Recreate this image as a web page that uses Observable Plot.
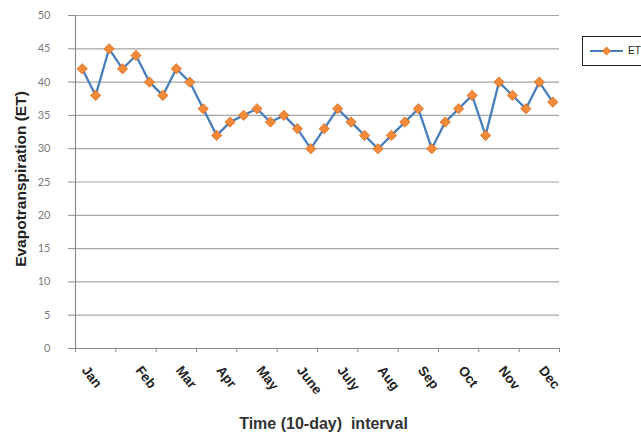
<!DOCTYPE html>
<html>
<head>
<meta charset="utf-8">
<script src="https://cdn.jsdelivr.net/npm/d3@7"></script>
<script src="https://cdn.jsdelivr.net/npm/@observablehq/plot@0.6"></script>
<style>
  html, body { margin: 0; padding: 0; background: #fff; overflow: hidden; width: 641px; height: 436px; }
  #chart { position: relative; width: 641px; height: 436px; }
  #legend { position: absolute; left: 582px; top: 36px; width: 80px; height: 28px; border: 1.5px solid #222; background: #fff; font-family: "Liberation Sans", Arial, sans-serif; font-size: 10px; color: #222; }
  #legend svg { position: absolute; left: 0; top: 0; }
  #legend span { position: absolute; left: 45px; top: 8px; }
</style>
</head>
<body>
<div id="chart"></div>
<script>
// 36 ten-day intervals
const intervals = d3.range(36);
const etValues = [42,38,45,42,44,40,38,42,40,36,32,34,35,36,34,35,33,30,33,36,34,32,30,32,34,36,30,34,36,38,32,40,38,36,40,37];
const categoryLabels = ["Jan","","","","Feb","","","Mar","","","Apr","","","May","","","June","","","July","","","Aug","","","Sep","","","Oct","","","Nov","","","Dec",""];
const yTicks = d3.range(0, 51, 5);
const xTickBoundaries = d3.range(0, 37, 3);
const seriesName = "ET";
const yTitle = "Evapotranspiration (ET)";
const xTitle = "Time (10-day)  interval";

const data = intervals.map(i => ({i, x: i + 0.5, et: etValues[i], label: categoryLabels[i]}));
const labelData = data.filter(d => d.label !== "");

const lineColor = "#4a7ebb";
const markerFill = "#f28a3a";
const markerStroke = "#d8661a";
const font = "Lato, 'Liberation Sans', sans-serif";
const boldFont = "'Liberation Sans', Arial, sans-serif";

const chart = Plot.plot({
  width: 641,
  height: 436,
  marginLeft: 75,
  marginRight: 82,
  marginTop: 15,
  marginBottom: 88,
  style: {fontFamily: font, background: "#fff", overflow: "visible"},
  x: {domain: [0, 36], axis: null},
  y: {domain: [0, 50], axis: null},
  marks: [
    Plot.ruleY(yTicks.filter(v => v > 0), {stroke: "#a6a6a6", strokeWidth: 1.2}),
    Plot.axisY({ticks: yTicks, tickSize: 7, tickPadding: 18, stroke: "#8c8c8c", tickFormat: d => d, fontSize: 11, fill: "#7a7a7a", label: null}),
    Plot.axisX({ticks: xTickBoundaries, tickSize: 4, tickFormat: () => "", stroke: "#8c8c8c", label: null}),
    Plot.ruleX([0], {stroke: "#8c8c8c", strokeWidth: 1.2}),
    Plot.ruleY([0], {stroke: "#8c8c8c", strokeWidth: 1.2}),
    Plot.line(data, {x: "x", y: "et", stroke: lineColor, strokeWidth: 2.3}),
    Plot.dot(data, {x: "x", y: "et", symbol: "diamond2", r: 4.6, fill: markerFill, stroke: markerStroke, strokeWidth: 0.8}),
    Plot.text(labelData, {x: "x", frameAnchor: "bottom", text: "label", rotate: 52, textAnchor: "start", dy: 22, dx: -1, fontSize: 13.5, fontWeight: "bold", fill: "#222", fontFamily: boldFont}),
    Plot.text([yTitle], {frameAnchor: "left", textAnchor: "middle", lineAnchor: "middle", rotate: -90, dx: -54, dy: -3, fontSize: 15.5, fontWeight: "bold", fill: "#222", fontFamily: boldFont}),
    Plot.text([xTitle], {frameAnchor: "bottom", textAnchor: "middle", dx: 6, dy: 80, fontSize: 16, fontWeight: "bold", fill: "#333", fontFamily: boldFont})
  ]
});
const host = document.getElementById("chart");
host.appendChild(chart);

// Legend (clipped by the image edge like the reference)
const legend = document.createElement("div");
legend.id = "legend";
const ns = "http://www.w3.org/2000/svg";
const svg = document.createElementNS(ns, "svg");
svg.setAttribute("width", "44"); svg.setAttribute("height", "28");
const ln = document.createElementNS(ns, "line");
ln.setAttribute("x1", "7"); ln.setAttribute("x2", "40"); ln.setAttribute("y1", "14"); ln.setAttribute("y2", "14");
ln.setAttribute("stroke", lineColor); ln.setAttribute("stroke-width", "2");
svg.appendChild(ln);
const dm = document.createElementNS(ns, "path");
dm.setAttribute("d", d3.symbol(d3.symbolDiamond2, 40)());
dm.setAttribute("transform", "translate(23.5,14)");
dm.setAttribute("fill", markerFill); dm.setAttribute("stroke", markerStroke); dm.setAttribute("stroke-width", "0.8");
svg.appendChild(dm);
legend.appendChild(svg);
const sp = document.createElement("span");
sp.textContent = seriesName;
legend.appendChild(sp);
host.appendChild(legend);
</script>
</body>
</html>
